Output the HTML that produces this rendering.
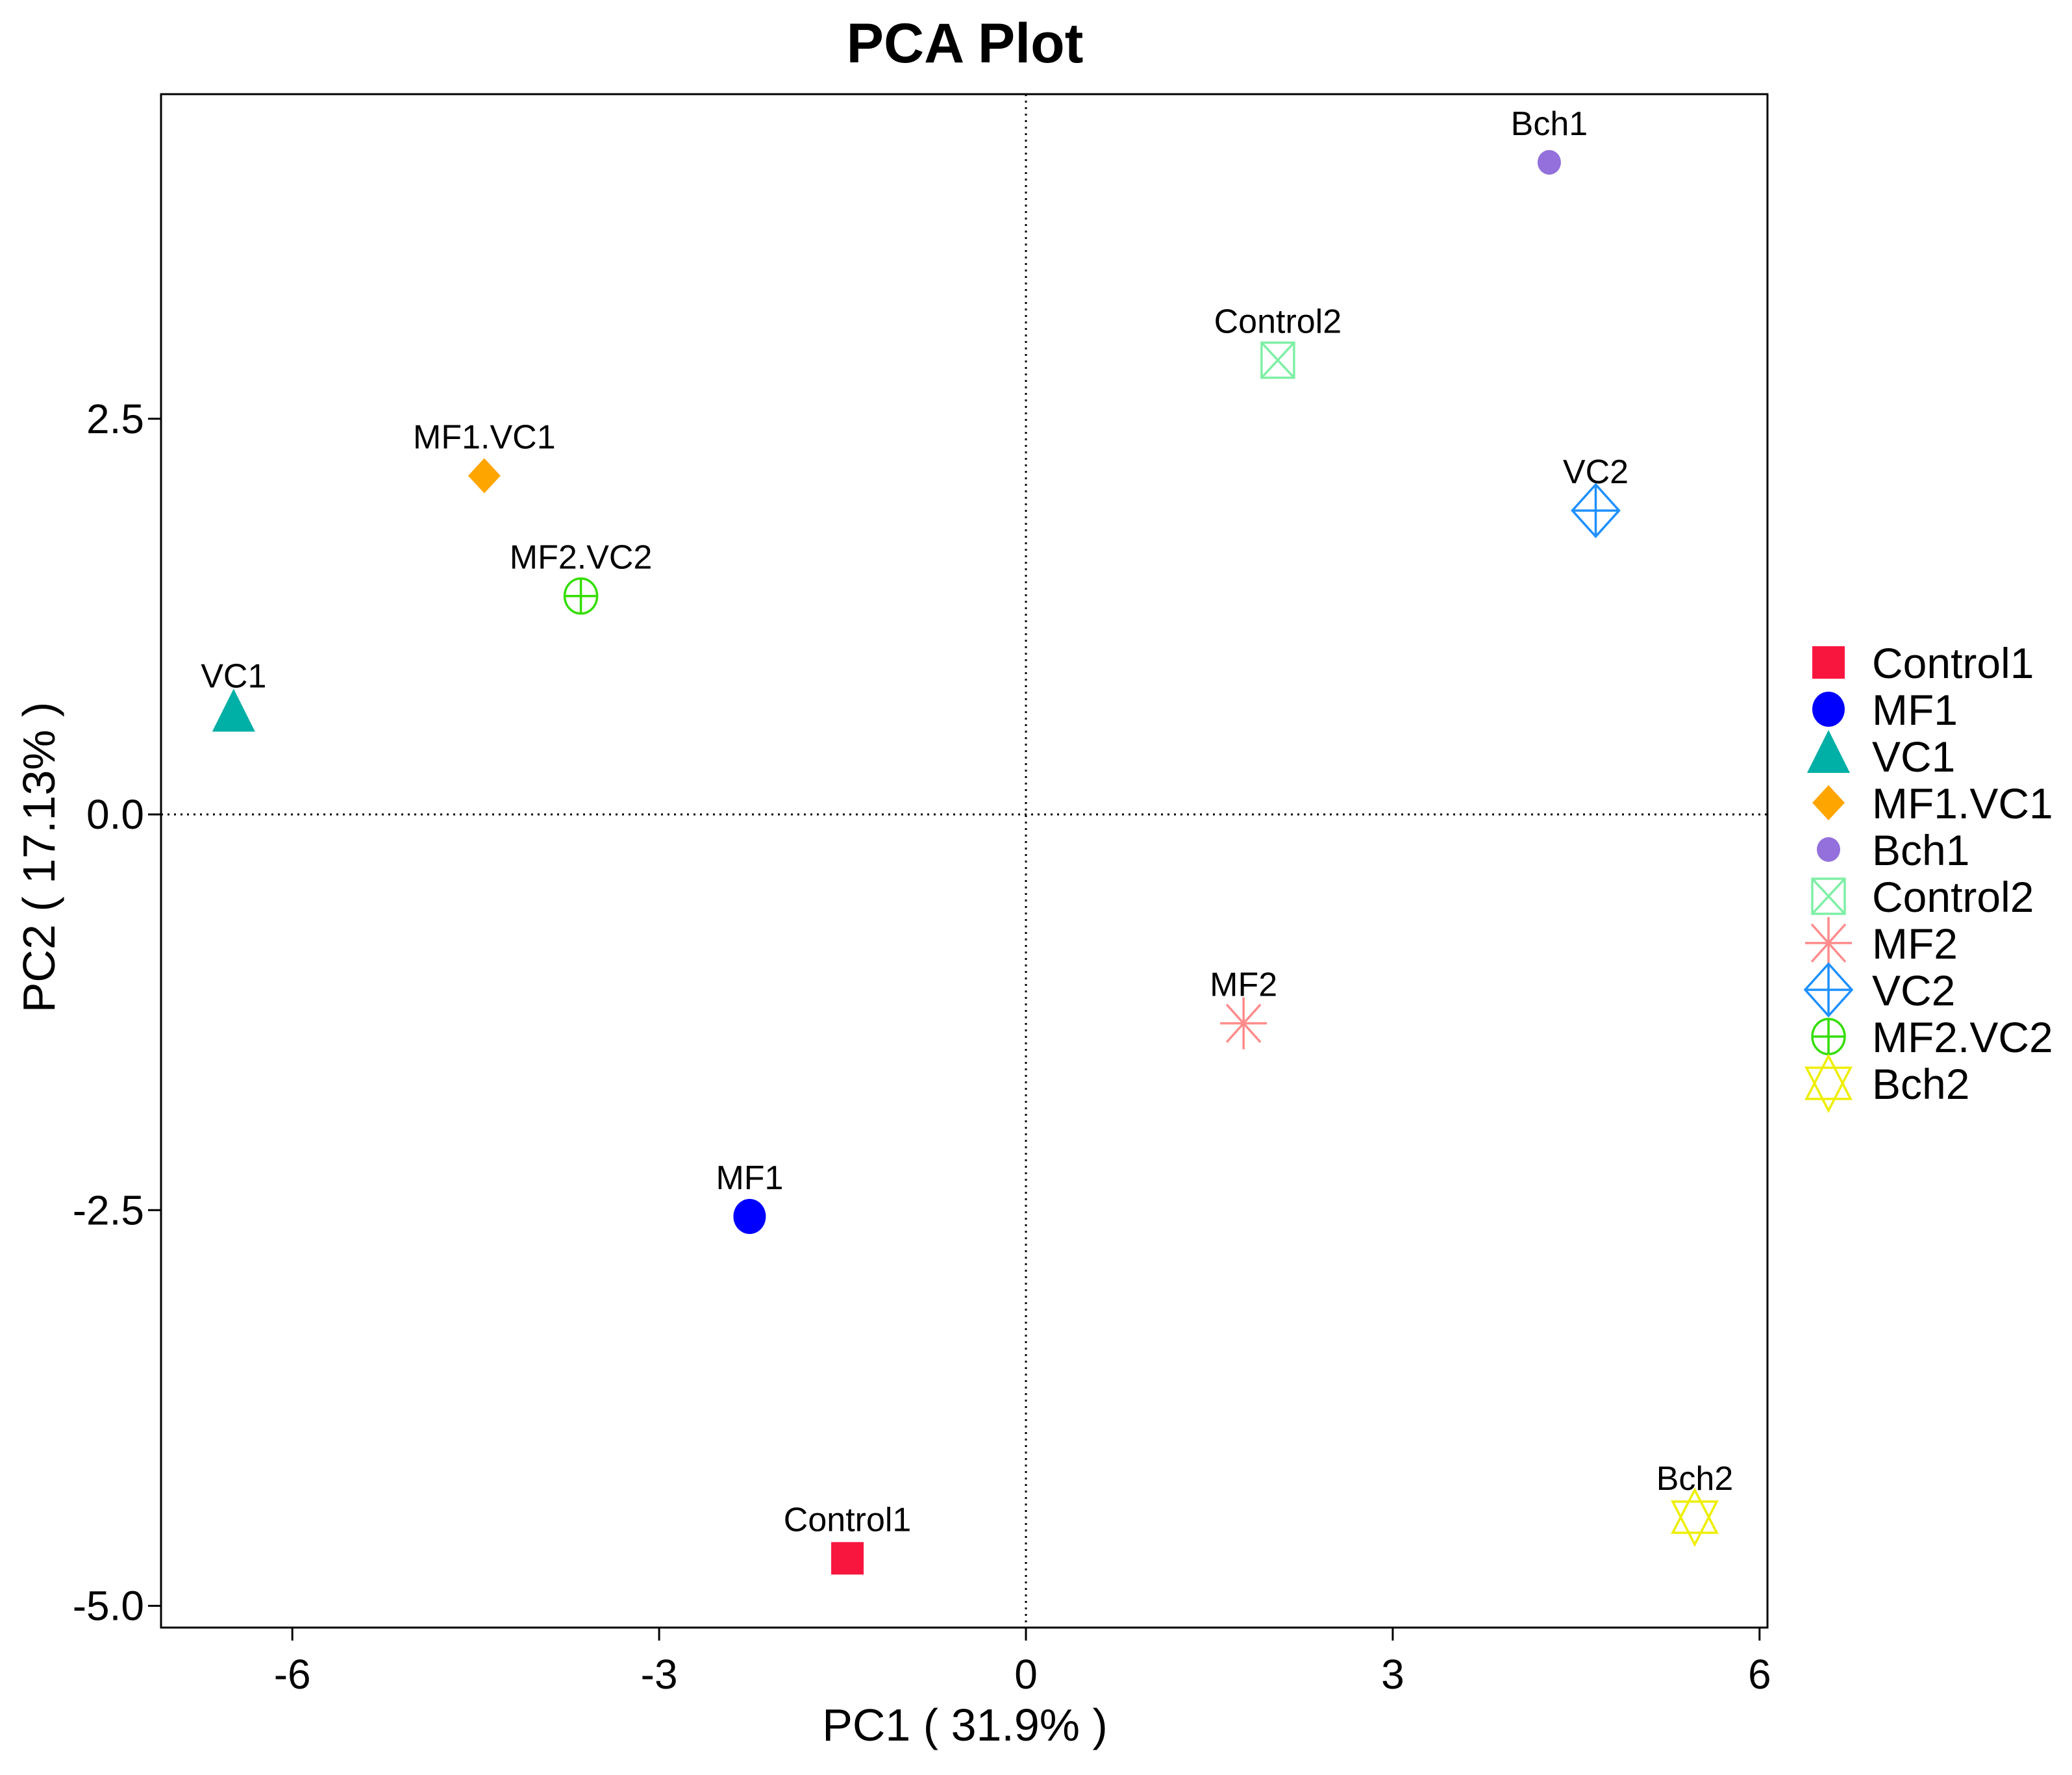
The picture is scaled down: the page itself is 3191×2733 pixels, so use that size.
<!DOCTYPE html>
<html><head><meta charset="utf-8"><style>
html,body{margin:0;padding:0;background:#fff}
svg{display:block;font-family:"Liberation Sans",Arial,sans-serif}
</style></head><body>
<svg id="chart" width="3191" height="2733" viewBox="0 0 3191 2733" xmlns="http://www.w3.org/2000/svg">
<text x="1486" y="96" font-size="86" font-weight="bold" text-anchor="middle">PCA Plot</text>
<g id="plot"></g>
<text x="1486" y="2680" font-size="70" text-anchor="middle">PC1 ( 31.9% )</text>
<text transform="translate(84,1320) rotate(-90)" font-size="70" text-anchor="middle">PC2 ( 17.13% )</text>
<g id="legend"></g>
</svg>
<script>
const samples = ["Control1","MF1","VC1","MF1.VC1","Bch1","Control2","MF2","VC2","MF2.VC2","Bch2"];
const pc1 = [-1.46,-2.26,-6.48,-4.43,4.28,2.06,1.78,4.66,-3.64,5.47];
const pc2 = [-4.70,-2.54,0.63,2.14,4.12,2.87,-1.32,1.92,1.38,-4.44];
const colors = ["#F8163F","#0000FF","#00AFA5","#FFA500","#9370DB","#7FEFA5","#FF8C8C","#1E90FF","#33DD00","#EEEE00"];
const shapes = ["square","circle","triangle","diamond","smallcircle","boxx","asterisk","diamondplus","circleplus","star"];
const xTicks = [-6,-3,0,3,6];
const yTicks = [-5.0,-2.5,0.0,2.5];
const xTickLabels = ["-6","-3","0","3","6"];
const yTickLabels = ["-5.0","-2.5","0.0","2.5"];

const L=248,R=2722,T=145,B=2506;
const X=v=>1580+v*188.3;
const Y=v=>1254-v*243.7;
const NS="http://www.w3.org/2000/svg";
function mk(tag,attrs,parent){const e=document.createElementNS(NS,tag);for(const k in attrs)e.setAttribute(k,attrs[k]);parent.appendChild(e);return e;}
const plot=document.getElementById('plot');
const leg=document.getElementById('legend');

let r=mk('rect',{x:L,y:T,width:R-L,height:B-T,fill:'none',stroke:'#000','stroke-width':3},plot);


let zl=mk('line',{x1:X(0),x2:X(0),y1:T,y2:B,stroke:'#000','stroke-width':3,'stroke-dasharray':'3 7'},plot);


let zh=mk('line',{x1:L,x2:R,y1:Y(0),y2:Y(0),stroke:'#000','stroke-width':3,'stroke-dasharray':'3 7'},plot);



xTicks.forEach((v,i)=>{
  let t=mk('line',{x1:X(v),x2:X(v),y1:B,y2:B+20,stroke:'#000','stroke-width':3},plot);
  
  
  let tx=mk('text',{x:X(v),y:2600,'font-size':64,'text-anchor':'middle'},plot);
  tx.textContent=xTickLabels[i];
  
  
});
yTicks.forEach((v,i)=>{
  let t=mk('line',{x1:L-20,x2:L,y1:Y(v),y2:Y(v),stroke:'#000','stroke-width':3},plot);
  
  
  let tx=mk('text',{x:L-26,y:Y(v)+22,'font-size':64,'text-anchor':'end'},plot);
  tx.textContent=yTickLabels[i];
  
  
});

function marker(shape,cx,cy,c,parent){
  const g=mk('g',{},parent);
  const sw=3.5;
  if(shape==='square')mk('rect',{x:cx-25,y:cy-25,width:50,height:50,fill:c},g);
  else if(shape==='circle')mk('ellipse',{cx,cy,rx:25,ry:27,fill:c},g);
  else if(shape==='smallcircle')mk('ellipse',{cx,cy,rx:18,ry:19,fill:c},g);
  else if(shape==='triangle')mk('polygon',{points:`${cx},${cy-40} ${cx-33},${cy+26} ${cx+33},${cy+26}`,fill:c},g);
  else if(shape==='diamond')mk('polygon',{points:`${cx},${cy-27} ${cx+25},${cy} ${cx},${cy+27} ${cx-25},${cy}`,fill:c},g);
  else if(shape==='boxx'){mk('rect',{x:cx-25,y:cy-27,width:50,height:54,fill:'none',stroke:c,'stroke-width':sw},g);
    mk('path',{d:`M${cx-25},${cy-27}L${cx+25},${cy+27}M${cx+25},${cy-27}L${cx-25},${cy+27}`,stroke:c,'stroke-width':sw},g);}
  else if(shape==='asterisk'){mk('path',{d:`M${cx-36},${cy}H${cx+36}M${cx},${cy-40}V${cy+40}M${cx-26},${cy-29}L${cx+26},${cy+29}M${cx+26},${cy-29}L${cx-26},${cy+29}`,stroke:c,'stroke-width':sw,fill:'none'},g);}
  else if(shape==='diamondplus'){mk('polygon',{points:`${cx},${cy-40} ${cx+36},${cy} ${cx},${cy+40} ${cx-36},${cy}`,fill:'none',stroke:c,'stroke-width':sw},g);
    mk('path',{d:`M${cx-36},${cy}H${cx+36}M${cx},${cy-40}V${cy+40}`,stroke:c,'stroke-width':sw},g);}
  else if(shape==='circleplus'){mk('ellipse',{cx,cy,rx:25,ry:27,fill:'none',stroke:c,'stroke-width':sw},g);
    mk('path',{d:`M${cx-25},${cy}H${cx+25}M${cx},${cy-27}V${cy+27}`,stroke:c,'stroke-width':sw},g);}
  else if(shape==='star'){mk('polygon',{points:`${cx},${cy-42} ${cx+34},${cy+24} ${cx-34},${cy+24}`,fill:'none',stroke:c,'stroke-width':sw},g);
    mk('polygon',{points:`${cx},${cy+42} ${cx+34},${cy-24} ${cx-34},${cy-24}`,fill:'none',stroke:c,'stroke-width':sw},g);}
  return g;
}

samples.forEach((s,i)=>{
  const cx=X(pc1[i]),cy=Y(pc2[i]);
  const m=marker(shapes[i],cx,cy,colors[i],plot);
  
  
  const t=mk('text',{x:cx,y:cy-42,'font-size':52,'text-anchor':'middle'},plot);
  t.textContent=s;
  
  

  const ly=1020+i*72;
  const lm=marker(shapes[i],2816,ly,colors[i],leg);
  
  
  const lt=mk('text',{x:2883,y:ly+24,'font-size':66},leg);
  lt.textContent=s;
  
  
});
</script>
</body></html>
